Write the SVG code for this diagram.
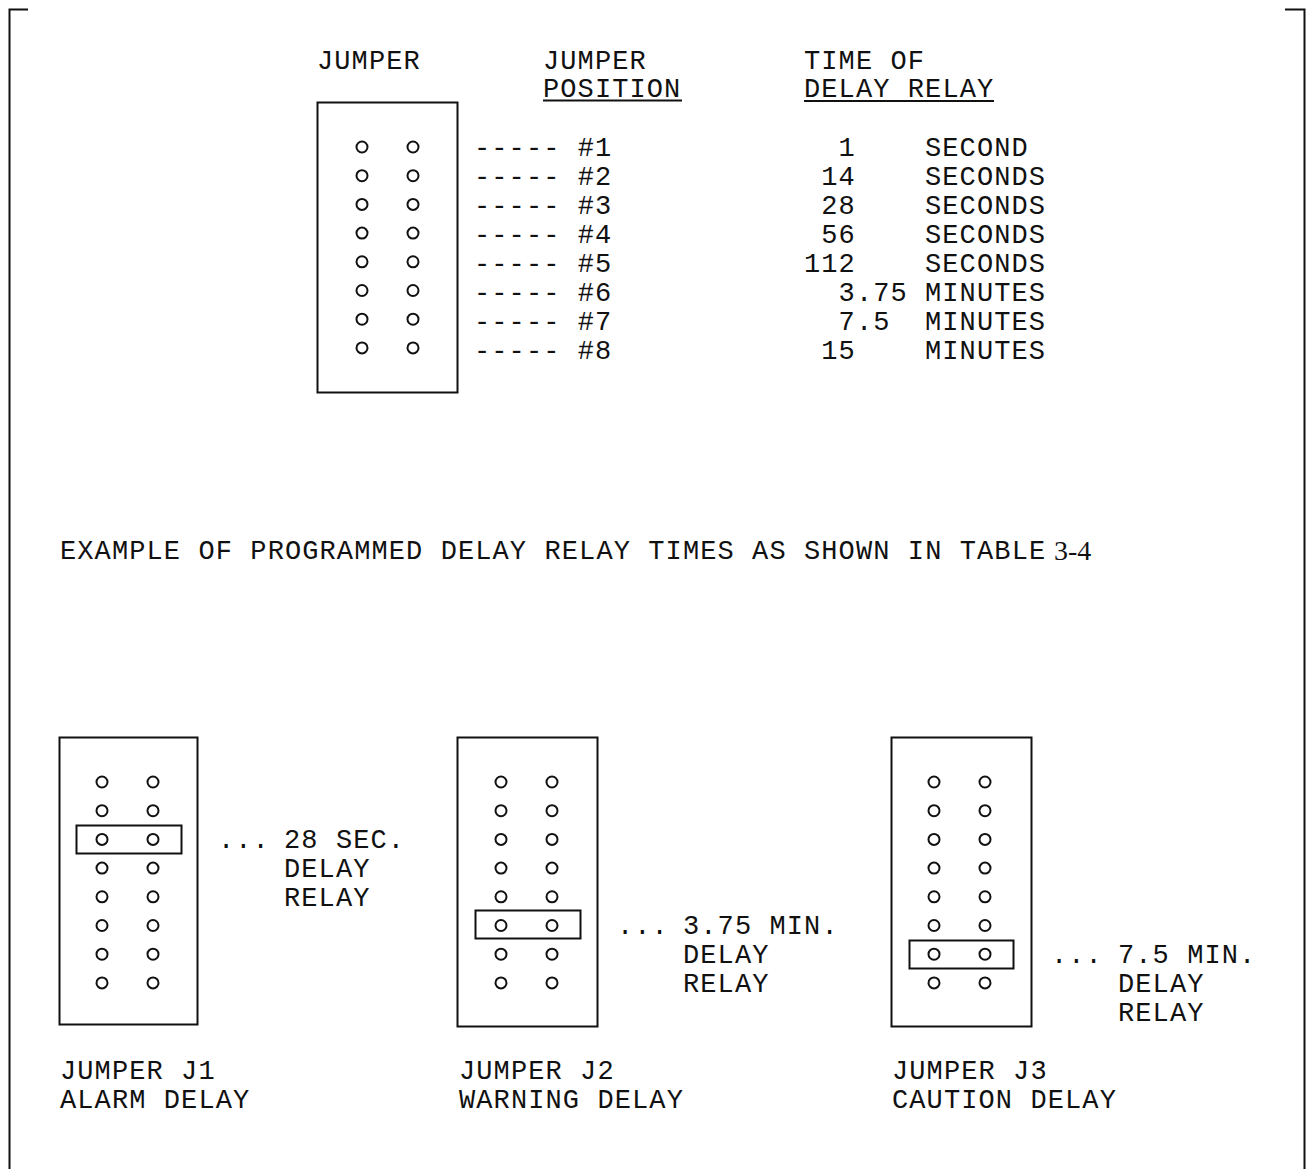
<svg xmlns="http://www.w3.org/2000/svg" width="1306" height="1169" viewBox="0 0 1306 1169">
<style>
text{font-family:"Liberation Mono","Courier New",monospace;font-size:27px;letter-spacing:1.1px;fill:#111}
.serif{font-family:"Liberation Serif","Times New Roman",serif;font-size:28px;letter-spacing:0}
.box{fill:none;stroke:#111;stroke-width:2}
.pin{fill:none;stroke:#111;stroke-width:2}
.ln{stroke:#111;stroke-width:2;fill:none}
</style>
<defs>
<g id="pins">
<circle class="pin" cx="0" cy="0" r="5.5"/><circle class="pin" cx="51" cy="0" r="5.5"/>
<circle class="pin" cx="0" cy="28.7" r="5.5"/><circle class="pin" cx="51" cy="28.7" r="5.5"/>
<circle class="pin" cx="0" cy="57.4" r="5.5"/><circle class="pin" cx="51" cy="57.4" r="5.5"/>
<circle class="pin" cx="0" cy="86.1" r="5.5"/><circle class="pin" cx="51" cy="86.1" r="5.5"/>
<circle class="pin" cx="0" cy="114.8" r="5.5"/><circle class="pin" cx="51" cy="114.8" r="5.5"/>
<circle class="pin" cx="0" cy="143.5" r="5.5"/><circle class="pin" cx="51" cy="143.5" r="5.5"/>
<circle class="pin" cx="0" cy="172.2" r="5.5"/><circle class="pin" cx="51" cy="172.2" r="5.5"/>
<circle class="pin" cx="0" cy="200.9" r="5.5"/><circle class="pin" cx="51" cy="200.9" r="5.5"/>
</g>
</defs>

<g id="frame">
<path class="ln" d="M9.5,1169 V9.5 H28"/>
<path class="ln" d="M1285,9.5 H1304.5 V1169"/>
</g>

<g id="header">
<text x="317" y="69">JUMPER</text>
<text x="543" y="69">JUMPER</text>
<text x="543" y="97">POSITION</text>
<line class="ln" x1="543" y1="100.5" x2="682" y2="100.5"/>
<text x="804" y="69">TIME OF</text>
<text x="804" y="97">DELAY RELAY</text>
<line class="ln" x1="804" y1="101" x2="994" y2="101"/>
</g>

<g id="jumper-legend">
<rect class="box" x="317.5" y="102.5" width="140" height="290"/>
<use href="#pins" x="362" y="147"/>
</g>

<g id="positions">
<text x="474" y="156">----- #1</text>
<text x="474" y="185">----- #2</text>
<text x="474" y="214">----- #3</text>
<text x="474" y="243">----- #4</text>
<text x="474" y="272">----- #5</text>
<text x="474" y="301">----- #6</text>
<text x="474" y="330">----- #7</text>
<text x="474" y="359">----- #8</text>
</g>

<g id="times">
<text x="838.6" y="156">1</text><text x="925" y="156">SECOND</text>
<text x="821.3" y="185">14</text><text x="925" y="185">SECONDS</text>
<text x="821.3" y="214">28</text><text x="925" y="214">SECONDS</text>
<text x="821.3" y="243">56</text><text x="925" y="243">SECONDS</text>
<text x="804" y="272">112</text><text x="925" y="272">SECONDS</text>
<text x="838.6" y="301">3.75</text><text x="925" y="301">MINUTES</text>
<text x="838.6" y="330">7.5</text><text x="925" y="330">MINUTES</text>
<text x="821.3" y="359">15</text><text x="925" y="359">MINUTES</text>
</g>

<g id="caption">
<text x="60" y="559">EXAMPLE OF PROGRAMMED DELAY RELAY TIMES AS SHOWN IN TABLE</text>
<text class="serif" x="1054" y="560">3-4</text>
</g>

<g id="jumper-j1">
<rect class="box" x="59.5" y="737.5" width="138" height="287"/>
<use href="#pins" x="102" y="782"/>
<rect class="box" x="76.5" y="825.5" width="105" height="28"/>
<text x="218" y="848">...</text>
<text x="284" y="848">28 SEC.</text>
<text x="284" y="877">DELAY</text>
<text x="284" y="906">RELAY</text>
<text x="60" y="1079">JUMPER J1</text>
<text x="60" y="1108">ALARM DELAY</text>
</g>

<g id="jumper-j2">
<rect class="box" x="457.5" y="737.5" width="140" height="289"/>
<use href="#pins" x="501" y="782"/>
<rect class="box" x="475.5" y="910.5" width="105" height="28"/>
<text x="617" y="934">...</text>
<text x="683" y="934">3.75 MIN.</text>
<text x="683" y="963">DELAY</text>
<text x="683" y="992">RELAY</text>
<text x="459" y="1079">JUMPER J2</text>
<text x="459" y="1108">WARNING DELAY</text>
</g>

<g id="jumper-j3">
<rect class="box" x="891.5" y="737.5" width="140" height="289"/>
<use href="#pins" x="934" y="782"/>
<rect class="box" x="909.5" y="940.5" width="104" height="28"/>
<text x="1051" y="963">...</text>
<text x="1118" y="963">7.5 MIN.</text>
<text x="1118" y="992">DELAY</text>
<text x="1118" y="1021">RELAY</text>
<text x="892" y="1079">JUMPER J3</text>
<text x="892" y="1108">CAUTION DELAY</text>
</g>
</svg>
